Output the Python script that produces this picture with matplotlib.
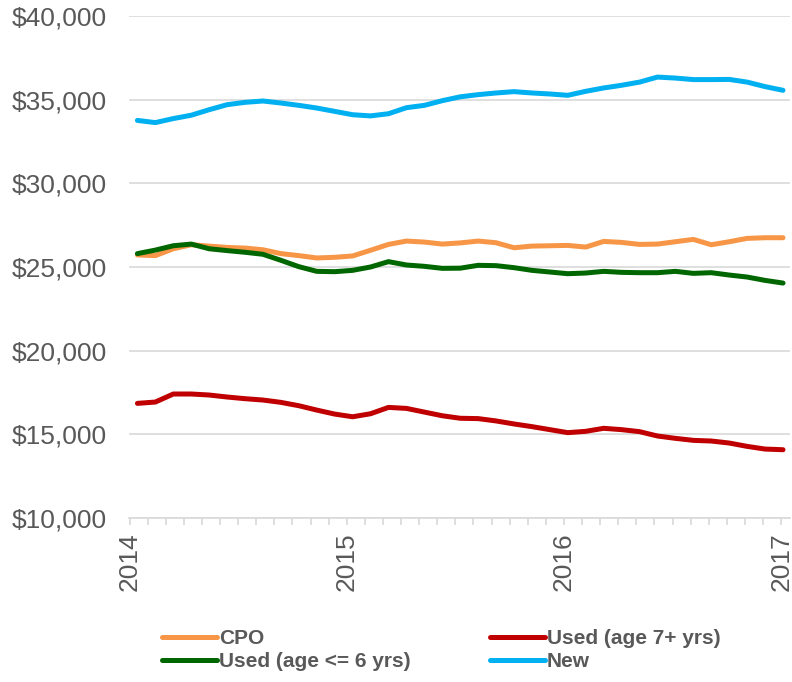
import numpy as np
from matplotlib import pyplot as plt
from matplotlib.ticker import FuncFormatter

plt.rcParams["font.family"] = ["Liberation Sans", "DejaVu Sans"]

# Monthly average transaction price, Jan 2014 - Jan 2017
years = ["2014", "2015", "2016", "2017"]

cpo = [25720, 25680, 26090, 26330, 26250, 26170, 26130, 26030, 25800, 25680,
       25540, 25580, 25660, 26000, 26350, 26550, 26490, 26370, 26440, 26550,
       26450, 26150, 26250, 26270, 26290, 26190, 26530, 26470, 26350, 26370,
       26510, 26650, 26330, 26510, 26710, 26750, 26750]

used_old = [16850, 16930, 17410, 17410, 17350, 17230, 17130, 17050, 16910, 16710,
            16450, 16210, 16050, 16230, 16610, 16550, 16330, 16110, 15960, 15940,
            15800, 15620, 15460, 15280, 15100, 15180, 15360, 15280, 15160, 14900,
            14760, 14640, 14600, 14480, 14280, 14120, 14080]

used_young = [25800, 26010, 26270, 26370, 26090, 25980, 25880, 25760, 25400, 25020,
              24740, 24720, 24800, 25000, 25320, 25120, 25040, 24920, 24930, 25100,
              25080, 24960, 24800, 24700, 24600, 24640, 24740, 24680, 24660, 24660,
              24740, 24620, 24660, 24520, 24400, 24200, 24040]

new = [33760, 33630, 33870, 34070, 34400, 34700, 34840, 34920, 34800, 34660,
       34500, 34300, 34100, 34030, 34160, 34520, 34660, 34940, 35170, 35300,
       35400, 35480, 35400, 35340, 35260, 35500, 35700, 35860, 36050, 36350,
       36290, 36200, 36200, 36210, 36050, 35780, 35560]

months = np.arange(len(new))

text_color = "#595959"
grid_color = "#D9D9D9"

fig = plt.figure(figsize=(7.92, 6.82), dpi=100)
ax = fig.add_axes([129 / 792, 1 - 518 / 682, 661 / 792, 502 / 682])

line_kw = dict(linewidth=3.6, solid_capstyle="round", solid_joinstyle="round")
ax.plot(months, cpo, color="#F79646", label="CPO", **line_kw)
ax.plot(months, used_young, color="#006600", label="Used (age <= 6 yrs)", **line_kw)
ax.plot(months, used_old, color="#C00000", label="Used (age 7+ yrs)", **line_kw)
ax.plot(months, new, color="#00B0F0", label="New", **line_kw)

ax.set_ylim(10000, 40000)
ax.set_yticks(np.arange(10000, 40001, 5000))
ax.yaxis.set_major_formatter(FuncFormatter(lambda v, _: f"${v:,.0f}"))
ax.grid(axis="y", color=grid_color, linewidth=1.2)
ax.set_axisbelow(True)

# monthly ticks along the bottom, year labels every 12th
tick_pos = np.linspace(-0.44, 35.9, 37)
ax.set_xlim(-0.47, 36.39)
ax.set_xticks(tick_pos)
ax.set_xticklabels([years[i // 12] if i % 12 == 0 else "" for i in range(37)],
                   rotation=90)

for side in ["top", "right", "left"]:
    ax.spines[side].set_visible(False)
ax.spines["bottom"].set_color(grid_color)
ax.spines["bottom"].set_linewidth(1.2)

ax.tick_params(axis="y", length=0, pad=16, labelsize=19, labelcolor=text_color)
ax.tick_params(axis="x", length=5, width=1.2, color=grid_color, pad=5,
               labelsize=19, labelcolor=text_color)

handles, labels = ax.get_legend_handles_labels()
leg = fig.legend(handles, labels, ncol=2, loc="center left",
                 bbox_to_anchor=(143 / 792, 1 - 650 / 682), frameon=False,
                 handlelength=2.65, handletextpad=0.1, columnspacing=3.8,
                 labelspacing=0.2, prop={"weight": "bold", "size": 15})
for t in leg.get_texts():
    t.set_color(text_color)

plt.savefig("out.png", dpi=100)
plt.close(fig)
